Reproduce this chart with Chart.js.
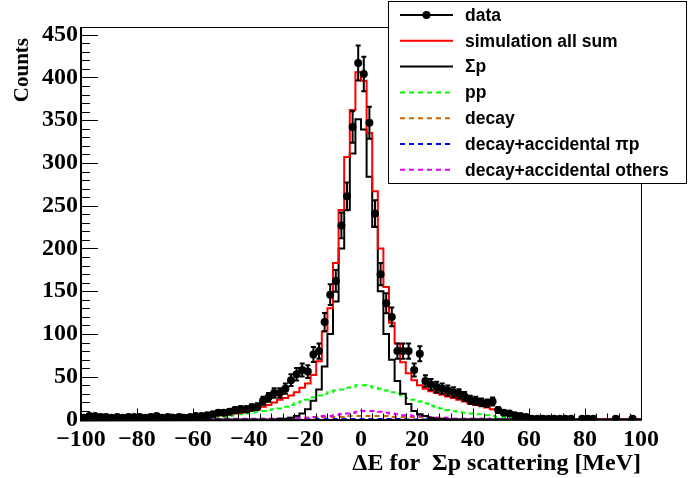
<!DOCTYPE html>
<html>
<head>
<meta charset="utf-8">
<script src="https://cdn.jsdelivr.net/npm/chart.js@4.4.1/dist/chart.umd.min.js"></script>
<style>
  html, body { margin: 0; padding: 0; background: #fff; }
  #wrap { width: 688px; height: 478px; }
</style>
</head>
<body>
<div id="wrap"><canvas id="chart" width="688" height="478"></canvas></div>
<script>
// Delta-E histograms, 2 MeV bins from -100 to 100 MeV
const xMin = -100, xMax = 100, yMax = 459;
const binWidth = 2;
const binCenters = Array.from({ length: 100 }, (_, i) => xMin + binWidth / 2 + i * binWidth);

const xTicks = [-100, -80, -60, -40, -20, 0, 20, 40, 60, 80, 100];
const yTicks = [0, 50, 100, 150, 200, 250, 300, 350, 400, 450];

// measured counts
const dataCounts = [
  2, 4, 4, 3, 3, 2, 3, 2, 3, 3,
  3, 2, 3, 4, 2, 3, 2, 3, 2, 3,
  4, 4, 5, 6, 8, 8, 9, 11, 12, 12,
  14, 15, 22, 26, 31, 31, 36, 46, 53, 58,
  56, 76, 80, 114, 146, 162, 227, 261, 342, 417,
  404, 347, 241, 170, 136, 120, 80, 80, 80, 58,
  77, 45, 41, 38, 36, 34, 32, 30, 27, 23,
  22, 20, 19, 21, 11, 8, 7, 5, 4, 3,
  1, 1, 1, 1, 1, 1, 1, 1, 0, 1,
  1, 1, 0, 0, 0, 1, 0, 0, 1, 0
];

// simulation: sum of all components
const simSum = [
  1, 1, 1, 1, 1, 1, 1, 1, 1, 1,
  1, 1, 1, 1, 2, 2, 2, 2, 3, 3,
  3, 3, 4, 4, 5, 5, 6, 7, 8, 9,
  11, 12, 15, 17, 20, 23, 25, 28, 32, 37,
  42, 52, 68, 103, 130, 183, 245, 307, 362, 406,
  396, 335, 267, 200, 155, 113, 89, 67, 54, 46,
  40, 36, 33, 31, 29, 27, 25, 23, 21, 19,
  17, 16, 14, 12, 11, 9, 8, 7, 5, 4,
  3, 2, 1, 1, 1, 1, 0, 0, 0, 0,
  0, 0, 0, 0, 0, 0, 0, 0, 0, 0
];

// Sigma-p scattering
const sigmaP = [
  0, 0, 0, 0, 0, 0, 0, 0, 0, 0,
  0, 0, 0, 0, 0, 0, 0, 0, 0, 0,
  0, 0, 0, 0, 0, 0, 0, 0, 0, 0,
  0, 0, 0, 0, 0, 1, 1, 2, 4, 7,
  12, 22, 35, 62, 100, 138, 200, 245, 311, 351,
  339, 284, 225, 150, 100, 70, 45, 30, 18, 10,
  6, 4, 2, 1, 1, 0, 0, 0, 0, 0,
  0, 0, 0, 0, 0, 0, 0, 0, 0, 0,
  0, 0, 0, 0, 0, 0, 0, 0, 0, 0,
  0, 0, 0, 0, 0, 0, 0, 0, 0, 0
];

// pp scattering
const ppScat = [
  0, 0, 0, 0, 0, 0, 0, 0, 0, 0,
  0, 0, 0, 0, 0, 1, 1, 1, 1, 1,
  1, 1, 2, 2, 3, 3, 4, 5, 6, 7,
  8, 9, 10, 11, 12, 13, 15, 17, 19, 21,
  23, 26, 28, 30, 32, 34, 35, 37, 38, 40,
  40, 39, 37, 36, 34, 32, 30, 28, 25, 23,
  21, 19, 16, 15, 13, 11, 10, 9, 8, 7,
  6, 6, 5, 4, 3, 3, 2, 2, 1, 1,
  1, 1, 0, 0, 0, 0, 0, 0, 0, 0,
  0, 0, 0, 0, 0, 0, 0, 0, 0, 0
];

// decay
const decayOnly = [
  0, 0, 0, 0, 0, 0, 0, 0, 0, 0,
  0, 0, 0, 0, 0, 0, 0, 0, 0, 0,
  0, 0, 0, 0, 0, 0, 0, 0, 0, 0,
  0, 0, 1, 1, 1, 1, 1, 1, 2, 2,
  2, 2, 2, 3, 3, 3, 3, 4, 4, 4,
  4, 4, 4, 4, 4, 3, 3, 3, 3, 3,
  3, 2, 2, 2, 2, 1, 1, 1, 1, 1,
  1, 1, 1, 0, 0, 0, 0, 0, 0, 0,
  0, 0, 0, 0, 0, 0, 0, 0, 0, 0,
  0, 0, 0, 0, 0, 0, 0, 0, 0, 0
];

// decay + accidental pi-p
const decayPiP = [
  0, 0, 0, 0, 0, 0, 0, 0, 0, 0,
  0, 0, 0, 0, 0, 0, 0, 0, 0, 0,
  0, 0, 0, 0, 0, 0, 0, 0, 0, 0,
  0, 0, 0, 0, 0, 0, 0, 0, 0, 0,
  0, 0, 0.5, 0.5, 0.5, 0.5, 0.5, 0.5, 0.5, 0.5,
  0.5, 0.5, 0.5, 0.5, 0.5, 0.5, 0.5, 0.5, 0, 0,
  0, 0, 0, 0, 0, 0, 0, 0, 0, 0,
  0, 0, 0, 0, 0, 0, 0, 0, 0, 0,
  0, 0, 0, 0, 0, 0, 0, 0, 0, 0,
  0, 0, 0, 0, 0, 0, 0, 0, 0, 0
];

// decay + accidental others
const decayOthers = [
  0, 0, 0, 0, 0, 0, 0, 0, 0, 0,
  0, 0, 0, 0, 0, 0, 0, 0, 0, 0,
  0, 0, 0, 1, 1, 1, 1, 1, 1, 1,
  1, 1, 1, 1, 1, 1, 1, 2, 2, 2,
  2, 3, 3, 4, 4, 5, 6, 7, 8, 9,
  10, 10, 10, 9, 8, 7, 6, 5, 5, 4,
  4, 3, 3, 2, 2, 2, 1, 1, 1, 1,
  1, 1, 1, 0, 0, 0, 0, 0, 0, 0,
  0, 0, 0, 0, 0, 0, 0, 0, 0, 0,
  0, 0, 0, 0, 0, 0, 0, 0, 0, 0
];

const serif = '"Liberation Serif", "Times New Roman", serif';
const sans = '"Liberation Sans", Arial, sans-serif';

// histogram outline: one point per bin, padded to the axis range
function histPoints(values) {
  const pts = values.map((v, i) => ({ x: binCenters[i], y: v }));
  pts.unshift({ x: xMin, y: values[0] });
  pts.push({ x: xMax, y: values[values.length - 1] });
  return pts;
}

function histDataset(label, values, color, dash) {
  return {
    type: 'line',
    label: label,
    data: histPoints(values),
    borderColor: color,
    borderWidth: 2,
    borderDash: dash || [],
    stepped: 'middle',
    pointRadius: 0,
    fill: false
  };
}

const dataPoints = [];
dataCounts.forEach((n, i) => {
  if (n > 0) dataPoints.push({ x: binCenters[i], y: n });
});

const legendItems = [
  { text: 'data', color: '#000', marker: true },
  { text: 'simulation all sum', color: '#ff0000' },
  { text: '\u03a3p', color: '#000' },
  { text: 'pp', color: '#00ff00', dash: [5, 4] },
  { text: 'decay', color: '#cc6600', dash: [5, 4] },
  { text: 'decay+accidental \u03c0p', color: '#0000ff', dash: [5, 4] },
  { text: 'decay+accidental others', color: '#dd00ee', dash: [5, 4] }
];

// frame, inward ticks, error bars, titles and legend
const rootStyle = {
  id: 'rootStyle',
  beforeDraw(chart) {
    const ctx = chart.ctx;
    ctx.save();
    ctx.fillStyle = '#fff';
    ctx.fillRect(0, 0, chart.width, chart.height);
    ctx.restore();
  },
  afterDatasetsDraw(chart) {
    const ctx = chart.ctx;
    const xs = chart.scales.x, ys = chart.scales.y;
    const a = chart.chartArea;

    // error bars sqrt(N)
    ctx.save();
    ctx.strokeStyle = '#000';
    ctx.lineWidth = 2;
    dataPoints.forEach(p => {
      const err = Math.sqrt(p.y);
      const px = xs.getPixelForValue(p.x);
      const yl = ys.getPixelForValue(p.y - err);
      const yh = ys.getPixelForValue(p.y + err);
      ctx.beginPath();
      ctx.moveTo(px, yl); ctx.lineTo(px, yh);
      ctx.moveTo(px - 2.5, yl); ctx.lineTo(px + 2.5, yl);
      ctx.moveTo(px - 2.5, yh); ctx.lineTo(px + 2.5, yh);
      ctx.moveTo(xs.getPixelForValue(p.x - binWidth / 2), ys.getPixelForValue(p.y));
      ctx.lineTo(xs.getPixelForValue(p.x + binWidth / 2), ys.getPixelForValue(p.y));
      ctx.stroke();
    });
    ctx.restore();

    // frame
    ctx.save();
    ctx.strokeStyle = '#000';
    ctx.lineWidth = 1;
    ctx.strokeRect(a.left + 0.5, a.top + 0.5, a.right - a.left, a.bottom - a.top);
    ctx.lineWidth = 2;
    ctx.beginPath();
    ctx.moveTo(a.left, a.top); ctx.lineTo(a.left, a.bottom + 1);
    ctx.lineTo(a.right + 1, a.bottom);
    ctx.stroke();

    // inward ticks
    ctx.lineWidth = 1;
    ctx.beginPath();
    for (let v = 0; v <= yMax; v += 10) {
      const py = Math.round(ys.getPixelForValue(v)) + 0.5;
      const len = v % 50 === 0 ? 17 : 9;
      ctx.moveTo(a.left, py); ctx.lineTo(a.left + len, py);
    }
    for (let v = xMin; v <= xMax; v += 4) {
      const px = Math.round(xs.getPixelForValue(v)) + 0.5;
      const len = v % 20 === 0 ? 11 : 6;
      ctx.moveTo(px, a.bottom); ctx.lineTo(px, a.bottom - len);
    }
    ctx.stroke();
    ctx.restore();
  },
  afterDraw(chart) {
    const ctx = chart.ctx;
    const a = chart.chartArea;
    ctx.save();
    ctx.fillStyle = '#000';

    // axis titles
    ctx.font = 'bold 24px ' + serif;
    ctx.textAlign = 'right';
    ctx.textBaseline = 'alphabetic';
    ctx.fillText('\u0394E for  \u03a3p scattering [MeV]', a.right, 470);

    ctx.translate(28, a.top + 11);
    ctx.rotate(-Math.PI / 2);
    ctx.font = 'bold 21px ' + serif;
    ctx.textAlign = 'right';
    ctx.fillText('Counts', 0, 0);
    ctx.restore();

    // legend box
    ctx.save();
    const lx = 388, ly = 1, lw = 299, lh = 182;
    ctx.fillStyle = '#fff';
    ctx.fillRect(lx, ly, lw, lh);
    ctx.strokeStyle = '#000';
    ctx.lineWidth = 1;
    ctx.strokeRect(lx + 0.5, ly + 0.5, lw - 1, lh);
    ctx.font = 'bold 17.5px ' + sans;
    ctx.textAlign = 'left';
    ctx.textBaseline = 'middle';
    legendItems.forEach((it, i) => {
      const y = 15 + i * 25.8;
      ctx.strokeStyle = it.color;
      ctx.lineWidth = 2;
      ctx.setLineDash(it.dash || []);
      ctx.beginPath();
      ctx.moveTo(400, y); ctx.lineTo(453, y);
      ctx.stroke();
      ctx.setLineDash([]);
      if (it.marker) {
        ctx.fillStyle = '#000';
        ctx.beginPath();
        ctx.arc(426.5, y, 4, 0, Math.PI * 2);
        ctx.fill();
      }
      ctx.fillStyle = '#000';
      ctx.fillText(it.text, 465, y + 1);
    });
    ctx.restore();
  }
};

const minusLabel = v => (v < 0 ? '\u2212' + Math.abs(v) : String(v));

new Chart(document.getElementById('chart'), {
  type: 'line',
  data: {
    datasets: [
      {
        type: 'scatter',
        label: 'data',
        data: dataPoints,
        pointRadius: 4,
        pointBackgroundColor: '#000',
        pointBorderColor: '#000',
        pointBorderWidth: 0,
        showLine: false
      },
      histDataset('simulation all sum', simSum, '#ff0000'),
      histDataset('\u03a3p', sigmaP, '#000000'),
      histDataset('decay+accidental others', decayOthers, '#dd00ee', [5, 4]),
      histDataset('pp', ppScat, '#00ff00', [5, 4]),
      histDataset('decay+accidental \u03c0p', decayPiP, '#0000ff', [5, 4]),
      histDataset('decay', decayOnly, '#cc6600', [5, 4])
    ]
  },
  options: {
    responsive: false,
    animation: false,
    devicePixelRatio: 1,
    layout: { padding: { top: 27, right: 47, left: 0, bottom: 0 } },
    plugins: {
      legend: { display: false },
      tooltip: { enabled: false }
    },
    scales: {
      x: {
        type: 'linear',
        min: xMin,
        max: xMax,
        grid: { display: false, drawTicks: false },
        border: { display: false },
        afterBuildTicks: s => { s.ticks = xTicks.map(v => ({ value: v })); },
        afterFit: s => { s.height = 58.5; },
        ticks: {
          padding: 6,
          autoSkip: false,
          maxRotation: 0,
          color: '#000',
          font: { family: serif, size: 24, weight: 'bold' },
          callback: minusLabel
        }
      },
      y: {
        type: 'linear',
        min: 0,
        max: yMax,
        grid: { display: false, drawTicks: false },
        border: { display: false },
        afterBuildTicks: s => { s.ticks = yTicks.map(v => ({ value: v })); },
        afterFit: s => { s.width = 81; },
        ticks: {
          padding: 3,
          color: '#000',
          font: { family: serif, size: 24, weight: 'bold' }
        }
      }
    }
  },
  plugins: [rootStyle]
});
</script>
</body>
</html>
